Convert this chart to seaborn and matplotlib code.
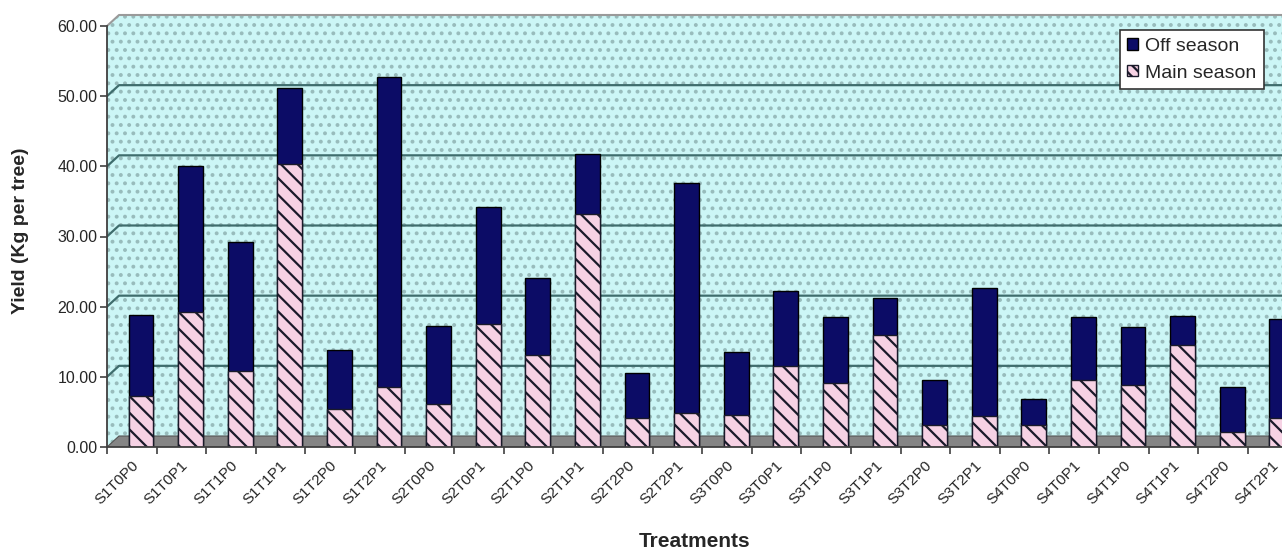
import matplotlib
matplotlib.use("Agg")
import matplotlib.pyplot as plt
import seaborn as sns
import numpy as np
from matplotlib.patches import Polygon, Patch
from matplotlib.ticker import FixedLocator, FuncFormatter

# Treatment combinations and yields (Kg per tree)
treatments = ["S1T0P0", "S1T0P1", "S1T1P0", "S1T1P1", "S1T2P0", "S1T2P1",
              "S2T0P0", "S2T0P1", "S2T1P0", "S2T1P1", "S2T2P0", "S2T2P1",
              "S3T0P0", "S3T0P1", "S3T1P0", "S3T1P1", "S3T2P0", "S3T2P1",
              "S4T0P0", "S4T0P1", "S4T1P0", "S4T1P1", "S4T2P0", "S4T2P1"]
main_season = [7.3, 19.2, 10.9, 40.4, 5.4, 8.5, 6.1, 17.5, 13.1, 33.2, 4.1, 4.9,
               4.6, 11.6, 9.1, 15.9, 3.2, 4.4, 3.1, 9.6, 8.8, 14.5, 2.1, 4.1]
off_season = [11.5, 20.9, 18.3, 10.7, 8.4, 44.3, 11.1, 16.7, 11.0, 8.6, 6.5, 32.7,
              9.0, 10.6, 9.4, 5.3, 6.4, 18.2, 3.7, 8.9, 8.3, 4.1, 6.4, 14.1]
y_ticks = [0, 10, 20, 30, 40, 50, 60]

total = [m + o for m, o in zip(main_season, off_season)]

sns.set_style("white")
plt.rcParams["font.family"] = ["Liberation Sans", "DejaVu Sans"]
plt.rcParams["hatch.linewidth"] = 1.6

NAVY = "#0c0c66"
PINK = "#f6d2e4"
WALL = "#ccf6f6"
DOTS = "#98bcbc"
GRID = "#3f6d6d"
FLOOR = "#858585"

W, H = 1282, 552
fig = plt.figure(figsize=(W / 100, H / 100), dpi=100)
left_px, right_px, top_px, bottom_px = 107, 1282, 15, 447
ax = fig.add_axes([left_px / W, (H - bottom_px) / H,
                   (right_px - left_px) / W, (bottom_px - top_px) / H])

# data-unit scale of the plot
ppu_x = 49.6
ppu_y = (bottom_px - 26) / 60.0
xl = -34 / ppu_x
xr = xl + (right_px - left_px) / ppu_x
dx = 12 / ppu_x          # depth offset of back wall (x)
dy = 11 / ppu_y          # depth offset of back wall (y)
ytop = 60 + dy

# dotted cyan walls
wall = Polygon([(xl, 0), (xl, 60), (xl + dx, ytop), (xr, ytop), (xr, 0)],
               closed=True, facecolor=WALL, edgecolor=DOTS, hatch="..",
               linewidth=0, zorder=0)
ax.add_patch(wall)
ax.plot([xl, xl + dx, xr], [60, ytop, ytop], color="#9a9a9a", lw=1.5, zorder=1,
        clip_on=False)

# back-wall gridlines with the short slant on the side wall
for v in y_ticks[1:-1]:
    ax.plot([xl, xl + dx, xr], [v, v + dy, v + dy], color=GRID, lw=1.6, zorder=1)

# floor slab
floor = Polygon([(xl, 0), (xl + dx, dy), (xr, dy), (xr, 0)], closed=True,
                facecolor=FLOOR, edgecolor="#555555", linewidth=0.8, zorder=1)
ax.add_patch(floor)

# stacked bars: total (off season on top) then main season over it
sns.barplot(x=treatments, y=total, color=NAVY, saturation=1, width=0.5,
            edgecolor="black", linewidth=1.0, ax=ax, zorder=3)
sns.barplot(x=treatments, y=main_season, color=PINK, saturation=1, width=0.5,
            edgecolor="#1a1a2a", linewidth=1.0, hatch="\\\\", ax=ax, zorder=4)

# axes styling
for s in ["top", "right"]:
    ax.spines[s].set_visible(False)
ax.spines["left"].set_bounds(0, 60)
ax.spines["left"].set_color("#404040")
ax.spines["left"].set_linewidth(1.3)
ax.spines["bottom"].set_color("#404040")
ax.spines["bottom"].set_linewidth(1.3)
ax.spines["left"].set_zorder(5)
ax.spines["bottom"].set_zorder(5)

ax.yaxis.set_major_locator(FixedLocator(y_ticks))
ax.yaxis.set_major_formatter(FuncFormatter(lambda v, p: f"{v:.2f}"))
ax.tick_params(axis="y", direction="out", length=5, width=1.2, color="#404040",
               labelsize=11.5, pad=2, left=True)

centers = np.arange(len(treatments))
ax.set_xticks(centers - 0.2)
ax.set_xticklabels(treatments, rotation=45, ha="right", rotation_mode="anchor",
                   fontsize=11)
ax.set_xticks(np.arange(len(treatments) + 1) - 0.685, minor=True)
ax.tick_params(axis="x", which="major", length=0, pad=8)
ax.tick_params(axis="x", which="minor", direction="out", length=5, width=1.2,
               color="#404040", bottom=True)

ax.set_xlim(xl, xr)
ax.set_ylim(0, ytop)

ax.set_ylabel("Yield (Kg per tree)", fontsize=14, fontweight="bold", labelpad=20)
ax.set_xlabel("Treatments", fontsize=15, fontweight="bold", labelpad=18)
ax.grid(False)

handles = [Patch(facecolor=NAVY, edgecolor="black", label="Off season"),
           Patch(facecolor=PINK, edgecolor="#1a1a2a", hatch="\\\\\\",
                 label="Main season")]
leg = ax.legend(handles=handles, loc="upper right",
                bbox_to_anchor=(1264 / W, 1 - 30 / H), bbox_transform=fig.transFigure,
                fontsize=14, frameon=True, fancybox=False, framealpha=1,
                edgecolor="#333333", handlelength=0.55, handleheight=0.55,
                handletextpad=0.35, borderpad=0.4, labelspacing=0.5,
                borderaxespad=0)
leg.get_frame().set_linewidth(1.2)
leg.set_zorder(10)

fig.savefig("out.png", dpi=100)
